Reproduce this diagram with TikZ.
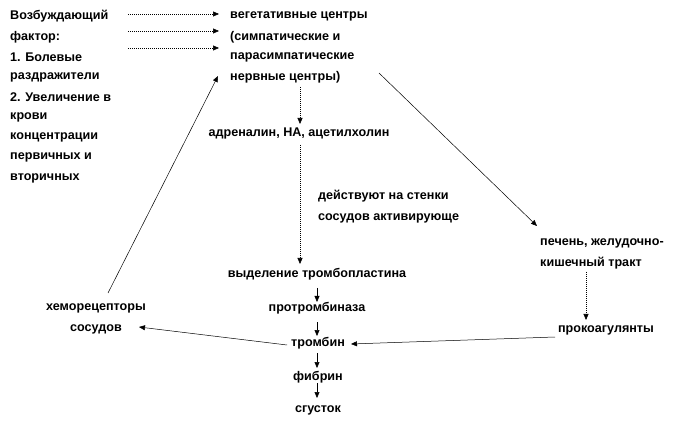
\documentclass[tikz,border=0pt]{standalone}
\usepackage{fontspec}
\setmainfont{Liberation Sans}
\usetikzlibrary{arrows.meta}
\begin{document}
\begin{tikzpicture}[x=1pt,y=-1pt,
  txt/.style={inner sep=0pt,font=\fontsize{12.6}{14}\selectfont\bfseries},
  lt/.style={txt,anchor=west},
  ct/.style={txt,anchor=center},
  arr/.style={-{Triangle[length=6pt,width=5pt]},line width=0.5pt},
  dotarr/.style={arr,dash pattern=on 1pt off 1pt,line width=0.6pt}
]
\useasboundingbox (0,0) rectangle (696,430);
% left column
\node[lt] (f1) at (10,16) {Возбуждающий};
\node[lt] (f2) at (10,37) {фактор:};
\node[lt] (f3) at (10,57) {1. Болевые};
\node[lt] (f4) at (10,77) {раздражители};
\node[lt] (f5) at (10,97) {2. Увеличение в};
\node[lt] (f6) at (10,117) {крови};
\node[lt] (f7) at (10,137) {концентрации};
\node[lt] (f8) at (10,157) {первичных и};
\node[lt] (f9) at (10,178) {вторичных};
% vegetative centres
\node[lt] (v1) at (230,16) {вегетативные центры};
\node[lt] (v2) at (230,37) {(симпатические и};
\node[lt] (v3) at (230,57) {парасимпатические};
\node[lt] (v4) at (230,77) {нервные центры)};
% others
\node[ct] (adr) at (299,133) {адреналин, НА, ацетилхолин};
\node[lt] (d1) at (318,196) {действуют на стенки};
\node[lt] (d2) at (318,218) {сосудов активирующе};
\node[lt] (liv1) at (540,243) {печень, желудочно-};
\node[lt] (liv2) at (540,263) {кишечный тракт};
\node[ct] (vyd) at (317,274) {выделение тромбопластина};
\node[ct] (ptb) at (317,308) {протромбиназа};
\node[ct] (pro) at (606,330) {прокоагулянты};
\node[ct] (trb) at (318,343) {тромбин};
\node[ct] (fib) at (318,377) {фибрин};
\node[ct] (sgu) at (318,410) {сгусток};
\node[ct] (hem1) at (96,308) {хеморецепторы};
\node[ct] (hem2) at (96,329) {сосудов};
% arrow endpoints
\coordinate (a1s) at (128,14);  \coordinate (a1e) at (219,14);
\coordinate (a2s) at (128,31);  \coordinate (a2e) at (219,31);
\coordinate (a3s) at (128,48);  \coordinate (a3e) at (219,48);
\coordinate (h0) at (108,293);  \coordinate (h1) at (218,76);
\coordinate (n0) at (300,87);   \coordinate (n1) at (300,124);
\coordinate (m0) at (300,145);  \coordinate (m1) at (300,264);
\coordinate (g0) at (379,73);   \coordinate (g1) at (537,226);
\coordinate (p0) at (586,272);  \coordinate (p1) at (586,320);
\coordinate (q0) at (555,337);  \coordinate (q1) at (351,344);
\coordinate (r0) at (287,345);  \coordinate (r1) at (139,327);
\coordinate (t0) at (317,288);  \coordinate (t1) at (317,302);
\coordinate (u0) at (317,322);  \coordinate (u1) at (317,336);
\coordinate (w0) at (317,353);  \coordinate (w1) at (317,368);
\coordinate (z0) at (317,383);  \coordinate (z1) at (317,398);
\draw[dotarr] (a1s) -- (a1e);
\draw[dotarr] (a2s) -- (a2e);
\draw[dotarr] (a3s) -- (a3e);
\draw[arr] (h0) -- (h1);
\draw[dotarr] (n0) -- (n1);
\draw[dotarr] (m0) -- (m1);
\draw[arr] (g0) -- (g1);
\draw[dotarr] (p0) -- (p1);
\draw[arr] (q0) -- (q1);
\draw[arr] (r0) -- (r1);
\draw[arr] (t0) -- (t1);
\draw[arr] (u0) -- (u1);
\draw[arr] (w0) -- (w1);
\draw[arr] (z0) -- (z1);
\end{tikzpicture}
\end{document}
